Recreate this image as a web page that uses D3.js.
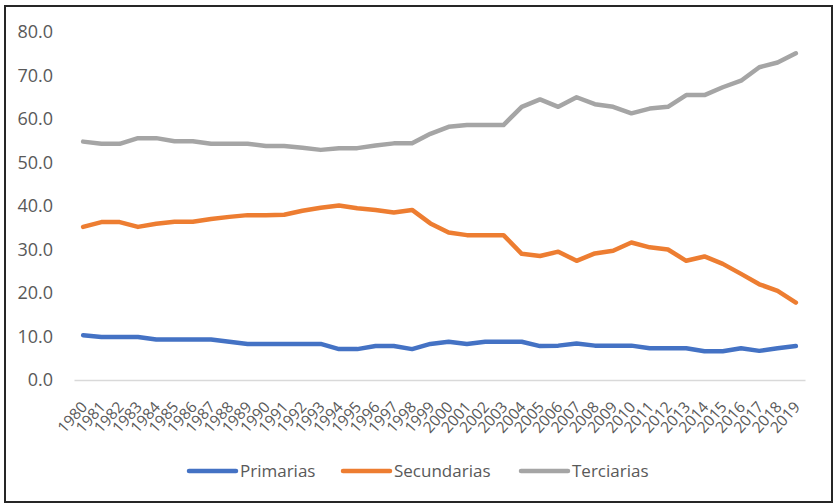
<!DOCTYPE html>
<html>
<head>
<meta charset="utf-8">
<script src="https://cdn.jsdelivr.net/npm/d3@7"></script>
<style>
  body { margin: 0; background: #fff; }
  svg text { font-family: "Open Sans", sans-serif; fill: #595959; }
</style>
</head>
<body>
<div id="chart"></div>
<script>
const years = d3.range(1980, 2020).map(String);
const yTicks = [0, 10, 20, 30, 40, 50, 60, 70, 80];

const primarias = [10.3, 9.9, 9.9, 9.9, 9.3, 9.3, 9.3, 9.3, 8.8, 8.3,
  8.3, 8.3, 8.3, 8.3, 7.1, 7.1, 7.8, 7.8, 7.1, 8.3,
  8.8, 8.3, 8.8, 8.8, 8.8, 7.8, 7.9, 8.4, 7.9, 7.9,
  7.9, 7.3, 7.3, 7.3, 6.6, 6.6, 7.3, 6.7, 7.3, 7.8];
const secundarias = [35.2, 36.3, 36.3, 35.2, 35.9, 36.4, 36.4, 37.0, 37.5, 37.9,
  37.9, 38.0, 38.9, 39.6, 40.1, 39.5, 39.1, 38.5, 39.1, 36.0,
  33.9, 33.3, 33.3, 33.3, 29.0, 28.5, 29.5, 27.4, 29.1, 29.7,
  31.6, 30.5, 30.0, 27.4, 28.4, 26.7, 24.4, 22.0, 20.5, 17.8];
const terciarias = [54.8, 54.3, 54.3, 55.6, 55.6, 54.9, 54.9, 54.3, 54.3, 54.3,
  53.8, 53.8, 53.4, 52.9, 53.3, 53.3, 53.9, 54.4, 54.4, 56.6,
  58.2, 58.6, 58.6, 58.6, 62.8, 64.5, 62.8, 65.0, 63.4, 62.8,
  61.3, 62.4, 62.8, 65.5, 65.5, 67.3, 68.8, 71.9, 73.0, 75.1];

const seriesNames = ["Primarias", "Secundarias", "Terciarias"];
const seriesValues = [primarias, secundarias, terciarias];
const colors = ["#4472C4", "#ED7D31", "#A5A5A5"];

const width = 834;
const height = 504;
const margin = { top: 32, right: 29, bottom: 124, left: 74 };

const svg = d3.select("#chart")
  .append("svg")
  .attr("width", width)
  .attr("height", height);

// marco del gráfico
svg.append("rect")
  .attr("x", 5).attr("y", 6)
  .attr("width", 827).attr("height", 496)
  .attr("fill", "none")
  .attr("stroke", "#262626")
  .attr("stroke-width", 2);

const x = d3.scaleBand()
  .domain(years)
  .range([margin.left, width - margin.right]);

const y = d3.scaleLinear()
  .domain([0, 80])
  .range([height - margin.bottom, margin.top]);

// eje y
const yAxis = svg.append("g")
  .attr("transform", `translate(${margin.left},0)`)
  .call(d3.axisLeft(y).tickValues(yTicks).tickFormat(d3.format(".1f")).tickSize(0).tickPadding(21));
yAxis.select(".domain").remove();
yAxis.selectAll("text")
  .style("font-size", "18px")
  .attr("fill", "#595959");

// eje x
const xAxis = svg.append("g")
  .attr("transform", `translate(0,${height - margin.bottom})`)
  .call(d3.axisBottom(x).tickSize(0).tickSizeOuter(0));
xAxis.select(".domain")
  .attr("stroke", "#D9D9D9")
  .attr("stroke-width", 1.5);
xAxis.selectAll("text")
  .style("font-size", "15.5px")
  .attr("fill", "#595959")
  .attr("text-anchor", "end")
  .attr("y", 0)
  .attr("dx", 0)
  .attr("dy", "0.35em")
  .attr("transform", "translate(1,24) rotate(-48)");

const line = d3.line()
  .x((d, i) => x(years[i]) + x.bandwidth() / 2)
  .y(d => y(d));

svg.append("g")
  .selectAll("path")
  .data(seriesValues)
  .join("path")
  .attr("fill", "none")
  .attr("stroke", (d, i) => colors[i])
  .attr("stroke-width", 4.5)
  .attr("stroke-linejoin", "round")
  .attr("stroke-linecap", "round")
  .attr("d", line);

// leyenda
const legendX = [189, 343, 521];
const legend = svg.append("g")
  .selectAll("g")
  .data(seriesNames)
  .join("g")
  .attr("transform", (d, i) => `translate(${legendX[i]},471)`);

legend.append("line")
  .attr("x1", 0).attr("x2", 47)
  .attr("stroke", (d, i) => colors[i])
  .attr("stroke-width", 4.5)
  .attr("stroke-linecap", "round");

legend.append("text")
  .attr("x", 51)
  .attr("dy", "0.35em")
  .style("font-size", "17px")
  .text(d => d);
</script>
</body>
</html>
